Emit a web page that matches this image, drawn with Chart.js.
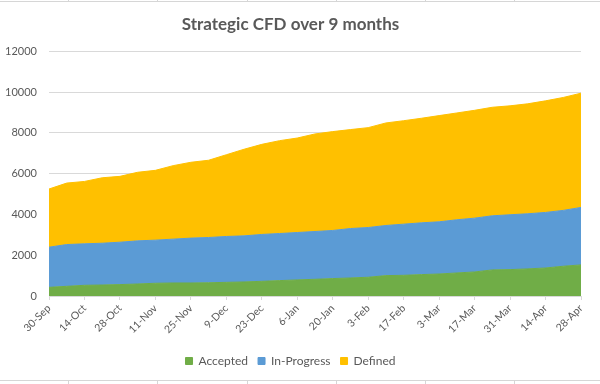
<!DOCTYPE html>
<html>
<head>
<meta charset="utf-8">
<title>Strategic CFD over 9 months</title>
<script src="https://cdn.jsdelivr.net/npm/chart.js@4.4.1/dist/chart.umd.min.js"></script>
<style>
  html, body { margin: 0; padding: 0; background: #fff; }
  #wrap { position: relative; width: 600px; height: 384px; overflow: hidden; }
  #wrap canvas { position: absolute; left: 0; top: 0; }
  .hline { position: absolute; left: 0; width: 600px; height: 1px; background: #d6d6d6; }
  .vline { position: absolute; width: 1px; background: #d6d6d6; }
</style>
</head>
<body>
<div id="wrap">
  <canvas id="cfdChart" width="600" height="384"></canvas>
</div>
<script>
// weekly snapshots, 30-Sep to 28-Apr
const weeks = ['30-Sep', '7-Oct', '14-Oct', '21-Oct', '28-Oct', '4-Nov', '11-Nov', '18-Nov', '25-Nov',
  '2-Dec', '9-Dec', '16-Dec', '23-Dec', '30-Dec', '6-Jan', '13-Jan', '20-Jan', '27-Jan', '3-Feb',
  '10-Feb', '17-Feb', '24-Feb', '3-Mar', '10-Mar', '17-Mar', '24-Mar', '31-Mar', '7-Apr', '14-Apr',
  '21-Apr', '28-Apr'];

// tick labels shown on the x axis (every second week)
const tickLabels = ['30-Sep', '14-Oct', '28-Oct', '11-Nov', '25-Nov', '9-Dec', '23-Dec', '6-Jan',
  '20-Jan', '3-Feb', '17-Feb', '3-Mar', '17-Mar', '31-Mar', '14-Apr', '28-Apr'];

const accepted = [425, 475, 525, 540, 560, 590, 625, 640, 640, 650, 670, 690, 720, 755, 790, 820,
  855, 885, 920, 1000, 1015, 1050, 1080, 1130, 1180, 1280, 1295, 1330, 1375, 1460, 1525];

const inProgress = [1970, 2050, 2035, 2050, 2080, 2115, 2115, 2150, 2200, 2220, 2250, 2260, 2300,
  2310, 2325, 2345, 2360, 2425, 2440, 2460, 2510, 2540, 2560, 2610, 2640, 2655, 2690, 2705, 2725,
  2740, 2820];

const defined = [2855, 3015, 3060, 3210, 3230, 3365, 3425, 3605, 3720, 3790, 4010, 4250, 4420, 4555,
  4635, 4785, 4850, 4855, 4900, 5030, 5075, 5130, 5210, 5240, 5290, 5325, 5345, 5395, 5475, 5540,
  5605];

const yTicks = [0, 2000, 4000, 6000, 8000, 10000, 12000];

const textColor = '#595959';
const gridColor = '#d9d9d9';
const fontFamily = 'Lato, "Open Sans", sans-serif';

// faint worksheet cell borders around the chart object
const wrap = document.getElementById('wrap');
const addLine = (cls, style) => {
  const el = document.createElement('div');
  el.className = cls;
  Object.assign(el.style, style);
  wrap.appendChild(el);
};
addLine('hline', { top: '1px' });
addLine('hline', { top: '380px' });
[68, 157, 247, 336, 425, 514].forEach(x => {
  addLine('vline', { left: x + 'px', top: '0px', height: '2px' });
  addLine('vline', { left: x + 'px', top: '380px', height: '4px' });
});

const series = [
  { label: 'Accepted', data: accepted, color: '#70ad47', fill: 'origin' },
  { label: 'In-Progress', data: inProgress, color: '#5b9bd5', fill: '-1' },
  { label: 'Defined', data: defined, color: '#ffc000', fill: '-1' },
];

new Chart(document.getElementById('cfdChart'), {
  type: 'line',
  data: {
    labels: weeks,
    datasets: series.map(s => ({
      label: s.label,
      data: s.data,
      backgroundColor: s.color,
      borderColor: s.color,
      borderWidth: 1,
      pointRadius: 0,
      tension: 0,
      fill: s.fill,
    })),
  },
  options: {
    responsive: false,
    animation: false,
    layout: { padding: { left: 0, right: 19, top: 0, bottom: 7 } },
    plugins: {
      title: {
        display: true,
        text: 'Strategic CFD over 9 months',
        color: textColor,
        font: { family: fontFamily, size: 17, weight: 'bold' },
        padding: { top: 14, bottom: 17 },
      },
      legend: {
        position: 'bottom',
        labels: {
          color: textColor,
          font: { family: fontFamily, size: 12 },
          boxWidth: 7,
          boxHeight: 7,
          padding: 10,
        },
      },
      tooltip: { enabled: false },
    },
    scales: {
      x: {
        stacked: true,
        offset: false,
        border: { color: gridColor },
        grid: {
          drawOnChartArea: false,
          tickLength: 4,
          color: ctx => (tickLabels.includes(weeks[ctx.index]) ? gridColor : 'rgba(0,0,0,0)'),
        },
        ticks: {
          autoSkip: false,
          minRotation: 45,
          maxRotation: 45,
          padding: 2,
          color: textColor,
          font: { family: fontFamily, size: 10.5 },
          callback: (value, index) => (tickLabels.includes(weeks[index]) ? weeks[index] : ''),
        },
        afterFit: scale => { scale.height = 49; },
      },
      y: {
        stacked: true,
        min: yTicks[0],
        max: yTicks[yTicks.length - 1],
        border: { display: false },
        grid: { color: gridColor, drawTicks: false },
        ticks: {
          stepSize: 2000,
          padding: 12,
          color: textColor,
          font: { family: fontFamily, size: 11 },
          callback: value => String(value),
        },
        afterFit: scale => { scale.width = 49; },
      },
    },
  },
});
</script>
</body>
</html>
